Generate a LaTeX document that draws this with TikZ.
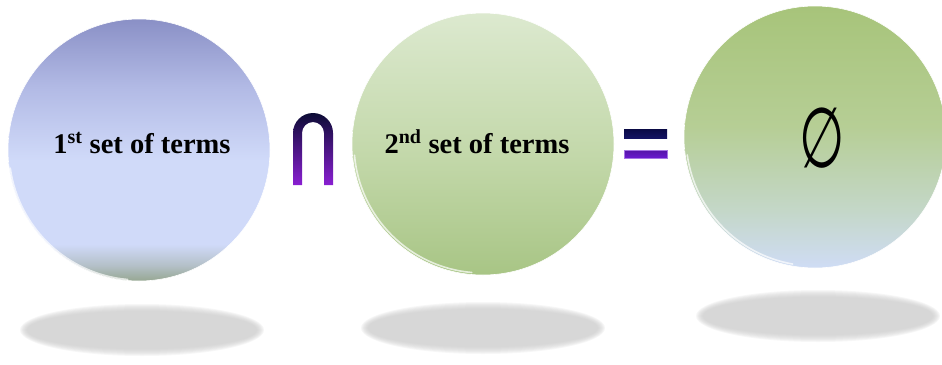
\documentclass[tikz,border=0pt]{standalone}
\usepackage{fontspec}
\setmainfont{Liberation Serif}
\newfontfamily\symfont{DejaVu Sans}
\usepackage{xcolor}
\usepackage{graphicx}
\usetikzlibrary{positioning,calc}

\definecolor{oneTop}{HTML}{8A90C6}
\definecolor{oneMid}{HTML}{B2BAE5}
\definecolor{oneLight}{HTML}{D0DAF9}
\definecolor{oneBand}{HTML}{B4C0C8}
\definecolor{oneBot}{HTML}{96A792}
\definecolor{twoTop}{HTML}{DCE9CF}
\definecolor{twoMid}{HTML}{C3D8AA}
\definecolor{twoBot}{HTML}{A8C585}
\definecolor{resTop}{HTML}{A7C47A}
\definecolor{resMid}{HTML}{B6CE95}
\definecolor{resPale}{HTML}{C4D7C8}
\definecolor{resBot}{HTML}{CFDCF5}
\definecolor{capTop}{HTML}{0C0C35}
\definecolor{capMid}{HTML}{2A28A8}
\definecolor{capBot}{HTML}{8A1FD2}
\definecolor{eqTop}{HTML}{0A0A45}
\definecolor{eqBot}{HTML}{6A1AD0}

\pgfdeclareverticalshading{setone}{100bp}{color(0bp)=(oneBot); color(25bp)=(oneBot); color(28bp)=(oneBand); color(32bp)=(oneLight); color(48bp)=(oneLight); color(62bp)=(oneMid); color(75bp)=(oneTop); color(100bp)=(oneTop)}
\pgfdeclareverticalshading{settwo}{100bp}{color(0bp)=(twoBot); color(25bp)=(twoBot); color(48bp)=(twoMid); color(75bp)=(twoTop); color(100bp)=(twoTop)}
\pgfdeclareverticalshading{setres}{100bp}{color(0bp)=(resBot); color(25bp)=(resBot); color(36bp)=(resPale); color(52bp)=(resMid); color(75bp)=(resTop); color(100bp)=(resTop)}

\begin{document}
\begin{tikzpicture}[
  x=1pt, y=-1pt,
  setcircle/.style={circle, minimum size=262pt, inner sep=0pt, draw=white, line width=0.6pt},
  rim/.style={draw=white, line width=1.6pt, opacity=0.7, line cap=round},
  term/.style={anchor=base, font=\fontsize{28.5}{32}\selectfont\bfseries},
  shadowlayer/.style={fill=black!22, opacity=0.15}
]
\useasboundingbox (0,0) rectangle (942,364);
% shadows under the spheres
\foreach \cx/\cy in {142/330, 483/328, 818/316}
  \foreach \k in {0,...,7}
    \fill[shadowlayer] (\cx,\cy) ellipse ({122-\k} and {26-\k});
% the three spheres
\node[setcircle, shading=setone] (set1) at (139,150) {};
\node[setcircle, shading=settwo] (set2) at (483,144) {};
\node[setcircle, shading=setres] (result) at (815,137) {};
\draw[rim] (set1.center) ++(172:130) arc[start angle=172, end angle=95, radius=130];
\draw[rim] (set2.center) ++(175:129) arc[start angle=175, end angle=95, radius=129];
\draw[rim] (result.center) ++(172:129) arc[start angle=172, end angle=100, radius=129];
% labels
\node[term] (t1) at (142,153) {1\textsuperscript{st} set of terms};
\node[term] (t2) at (477,153) {2\textsuperscript{nd} set of terms};
\node[font=\symfont\fontsize{84}{90}\selectfont, inner sep=0pt] (empty) at (822,138) {\scalebox{0.62}[1]{∅}};
% intersection sign
\shade[top color=capTop, middle color=capMid, bottom color=capBot]
  (293,185) -- (293,133) arc[start angle=180, end angle=360, radius=20]
  -- (333,185) -- (324,185) -- (324,133) arc[start angle=0, end angle=-180, radius=11]
  -- (302,185) -- cycle;
% equals sign
\shade[top color=eqTop, bottom color=eqTop!70!capMid] (624,129) rectangle (667,138);
\shade[top color=eqBot!80!black, bottom color=eqBot, draw=eqBot!60!white, line width=0.5pt] (624,150) rectangle (667,158);
\end{tikzpicture}
\end{document}
